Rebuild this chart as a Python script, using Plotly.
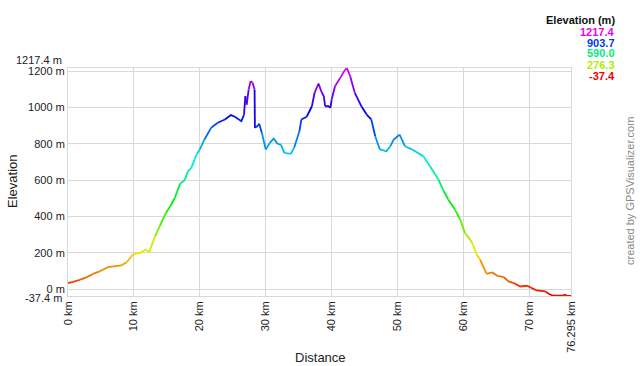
import colorsys
import plotly.graph_objects as go

# ---- data ----
distance_km = [0.0, 0.8, 1.8, 2.6, 3.8, 4.8, 6.1, 6.9, 8.1, 8.9, 9.6, 10.0, 10.9, 11.8, 12.3,
               13.2, 13.9, 14.8, 15.5, 16.2, 17.0, 17.7, 18.2, 18.7, 19.2, 19.5, 20.0, 20.7,
               21.7, 22.7, 23.8, 24.7, 25.3, 26.3, 26.7, 26.9, 27.1, 27.4, 27.7, 28.0, 28.3,
               28.35, 28.7, 29.0, 29.4, 30.0, 30.6, 31.2, 31.8, 32.3, 32.8, 33.8, 34.3, 35.1,
               35.4, 36.2, 37.0, 37.4, 38.0, 38.4, 38.8, 39.0, 39.5, 39.8, 40.0, 40.5, 41.3,
               41.9, 42.3, 42.8, 43.5, 44.5, 45.3, 46.0, 46.6, 47.3, 48.3, 48.9, 49.4, 50.3,
               51.1, 52.2, 53.9, 54.9, 56.2, 57.0, 57.7, 58.7, 59.5, 60.2, 61.0, 61.3, 62.0,
               62.5, 63.5, 64.3, 65.1, 66.1, 66.8, 67.6, 68.6, 69.6, 70.3, 71.1, 72.4, 72.9,
               73.6, 74.9, 75.4, 75.6, 76.295]
elevation_m = [34, 40, 52, 62, 84, 98, 122, 126, 131, 148, 180, 194, 199, 218, 203,
               291, 346, 416, 456, 502, 581, 600, 649, 668, 713, 741, 770, 824,
               888, 916, 934, 958, 949, 925, 961, 1062, 1016, 1099, 1145, 1136, 1099,
               888, 897, 910, 861, 769, 805, 829, 800, 796, 750, 745, 778, 869,
               934, 949, 1007, 1081, 1132, 1090, 1062, 1007, 1007, 998, 1044, 1117, 1163,
               1200, 1217.4, 1172, 1081, 1007, 961, 934, 842, 769, 759, 787, 824, 851,
               787, 769, 732, 677, 603, 539, 493, 438, 383, 310, 273, 255, 190,
               163, 85, 93, 74, 67, 43, 34, 15, 19, 7, -7, -12, -25,
               -36, -36, -30, -36, -37.4]
x_tick_vals = [0, 10, 20, 30, 40, 50, 60, 70, 76.295]
x_tick_text = ["0 km", "10 km", "20 km", "30 km", "40 km", "50 km", "60 km", "70 km", "76.295 km"]
y_tick_vals = [0, 200, 400, 600, 800, 1000, 1200]
y_tick_text = ["0 m", "200 m", "400 m", "600 m", "800 m", "1000 m", "1200 m"]
legend_values = ["1217.4", "903.7", "590.0", "276.3", "-37.4"]

E_MIN, E_MAX = -37.4, 1217.4
X_MAX = 76.295
FONT = "Arial, Liberation Sans, sans-serif"
W, H = 640, 366
ML, MR, MT, MB = 68, 69, 68, 70


def hue_color(e):
    f = (e - E_MIN) / (E_MAX - E_MIN)
    f = min(max(f, 0.0), 1.0)
    r, g, b = colorsys.hsv_to_rgb(f * 300.0 / 360.0, 1.0, 0.93)
    return "rgb(%d,%d,%d)" % (round(r * 255), round(g * 255), round(b * 255))


def px(x, y):
    """pixel position -> paper coordinates"""
    return (x - ML) / (W - ML - MR), (H - MB - y) / (H - MT - MB)


fig = go.Figure()

# group segments into colour bins
NB = 60
bins = {}
for i in range(len(distance_km) - 1):
    mid = 0.5 * (elevation_m[i] + elevation_m[i + 1])
    b = int((mid - E_MIN) / (E_MAX - E_MIN) * NB)
    b = min(max(b, 0), NB - 1)
    xs, ys = bins.setdefault(b, ([], []))
    if xs and xs[-1] == distance_km[i]:
        xs.append(distance_km[i + 1]); ys.append(elevation_m[i + 1])
    else:
        if xs:
            xs.append(None); ys.append(None)
        xs += [distance_km[i], distance_km[i + 1]]
        ys += [elevation_m[i], elevation_m[i + 1]]

for b in sorted(bins):
    xs, ys = bins[b]
    e = E_MIN + (b + 0.5) / NB * (E_MAX - E_MIN)
    fig.add_trace(go.Scatter(x=xs, y=ys, mode="lines", connectgaps=False,
                             line=dict(color=hue_color(e), width=1.8),
                             hoverinfo="skip", showlegend=False))

grid = "#d9d9d9"
fig.update_layout(
    width=W, height=H,
    margin=dict(l=ML, r=MR, t=MT, b=MB),
    paper_bgcolor="white", plot_bgcolor="white",
    font=dict(family=FONT, size=11, color="#222"),
    showlegend=False,
    xaxis=dict(range=[0, X_MAX], tickvals=x_tick_vals, ticktext=x_tick_text,
               tickangle=-90, showgrid=True, gridcolor=grid, gridwidth=1,
               zeroline=False, showline=True, linecolor=grid, mirror=True,
               ticks="", tickfont=dict(size=11, color="#222"), automargin=False),
    yaxis=dict(range=[E_MIN, E_MAX], tickvals=y_tick_vals, ticktext=y_tick_text,
               showgrid=True, gridcolor=grid, gridwidth=1, zeroline=False,
               showline=True, linecolor=grid, mirror=True, ticks="",
               tickfont=dict(size=11, color="#222"), automargin=False),
)

# axis titles
ax, ay = px(320, 357)
fig.add_annotation(x=ax, y=ay, xref="paper", yref="paper", text="Distance", showarrow=False,
                   xanchor="center", yanchor="middle", font=dict(size=13, color="#222"))
ax, ay = px(12, 182)
fig.add_annotation(x=ax, y=ay, xref="paper", yref="paper", text="Elevation", showarrow=False,
                   textangle=-90, xanchor="center", yanchor="middle",
                   font=dict(size=13, color="#222"))

# extreme y labels
fig.add_annotation(x=0, y=E_MAX, xref="paper", yref="y", text="1217.4 m", showarrow=False,
                   xanchor="right", yanchor="bottom", xshift=-4, yshift=0,
                   font=dict(size=11, color="#222"))
fig.add_annotation(x=0, y=E_MIN, xref="paper", yref="y", text="-37.4 m", showarrow=False,
                   xanchor="right", yanchor="middle", xshift=-4, yshift=-1.5,
                   font=dict(size=11, color="#222"))

# colour legend
ax, ay = px(617, 20)
fig.add_annotation(x=ax, y=ay, xref="paper", yref="paper", text="<b>Elevation (m)</b>",
                   showarrow=False, xanchor="right", yanchor="middle",
                   font=dict(size=11, color="#111"))
legend_ys = [32, 43, 53.5, 64.5, 75.5]
for v, yy in zip(legend_values, legend_ys):
    ax, ay = px(617, yy)
    fig.add_annotation(x=ax, y=ay, xref="paper", yref="paper", text="<b>%s</b>" % v,
                       showarrow=False, xanchor="right", yanchor="middle",
                       font=dict(size=11, color=hue_color(float(v))))

# credit
ax, ay = px(630, 191)
fig.add_annotation(x=ax, y=ay, xref="paper", yref="paper",
                   text="created by GPSVisualizer.com", textangle=-90, showarrow=False,
                   xanchor="center", yanchor="middle", font=dict(size=11, color="#888"))

fig.write_html("out.html")
